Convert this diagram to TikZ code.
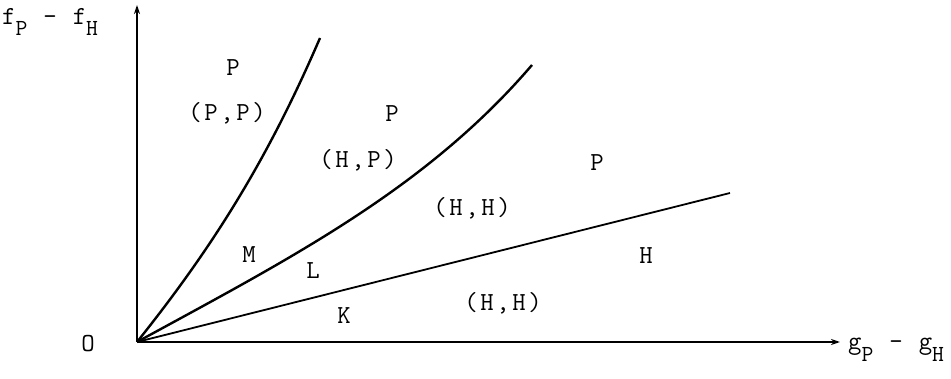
\documentclass[tikz,border=0pt]{standalone}
\usepackage{fontspec}
\setmonofont{Latin Modern Mono}[LetterSpace=10]
\usetikzlibrary{arrows.meta}
\newcommand\sbs[1]{\raisebox{-0.45em}{\fontsize{23}{23}\selectfont #1}}
\begin{document}
\begin{tikzpicture}[x=1pt,y=-1pt,
  lbl/.style={font=\fontsize{26}{28}\ttfamily, inner sep=0pt, anchor=center},
  axis/.style={line width=1.5pt, -{Stealth[length=9pt,width=6pt]}},
  curve/.style={line width=2.4pt},
  ray/.style={line width=1.8pt}]
\useasboundingbox (0,0) rectangle (951,379);
\coordinate (O) at (137,342);
\coordinate (ytop) at (137,5);
\coordinate (xend) at (840,342);
\coordinate (c1) at (320,38);
\coordinate (c2) at (532,65);
\coordinate (c3) at (730,193);
\draw[axis] (O) -- (ytop);
\draw[axis] (O) -- (xend);
\draw[curve] (O) .. controls (217,242) and (270,154) .. (c1);
\draw[curve] (O) .. controls (287,260) and (425,190) .. (c2);
\draw[ray] (O) -- (c3);
\node[lbl, anchor=west] (fl) at (2,22) {f\sbs{P} - f\sbs{H}};
\node[lbl, anchor=west] (gl) at (848,350) {g\sbs{P} - g\sbs{H}};
\node[lbl] (o) at (88,344) {O};
\node[lbl] (p1) at (233,68) {P};
\node[lbl] (pp) at (227,113) {(P,P)};
\node[lbl] (p2) at (392,114) {P};
\node[lbl] (hp) at (358,160) {(H,P)};
\node[lbl] (p3) at (597,163) {P};
\node[lbl] (hh1) at (472,208) {(H,H)};
\node[lbl] (h) at (646,256) {H};
\node[lbl] (hh2) at (503,303) {(H,H)};
\node[lbl] (m) at (249,255) {M};
\node[lbl] (l) at (313,271) {L};
\node[lbl] (k) at (344,316) {K};
\end{tikzpicture}
\end{document}
